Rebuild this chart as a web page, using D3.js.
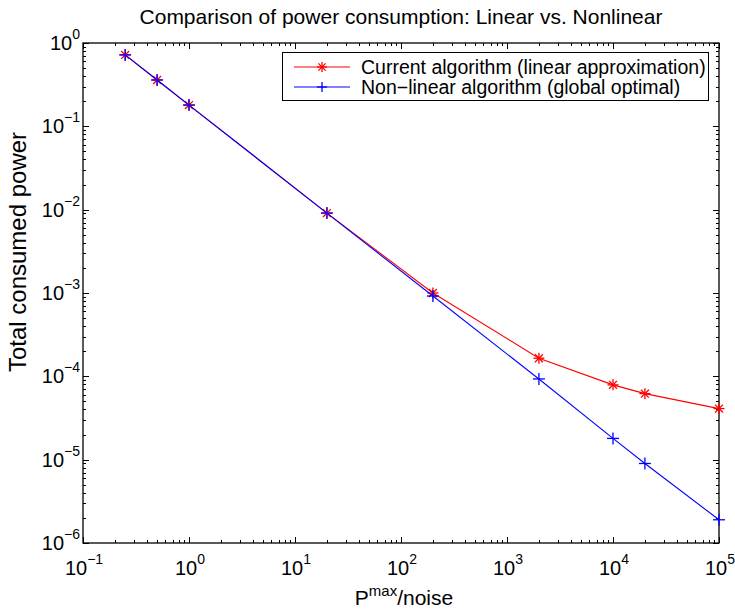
<!DOCTYPE html>
<html><head><meta charset="utf-8">
<script src="https://cdn.jsdelivr.net/npm/d3@7"></script>
<style>body{margin:0;background:#fff}svg{display:block;font-family:"Liberation Sans",Arial,sans-serif}</style>
</head><body>
<svg id="c" width="735" height="611"></svg>
<script>
const xValues = [0.25, 0.5, 1, 20, 200, 2000, 10000, 20000, 100000];
const currentAlg = [0.72, 0.36, 0.18, 0.0091, 1.0e-3, 1.65e-4, 7.9e-5, 6.2e-5, 4.1e-5];
const nonlinearAlg = [0.72, 0.36, 0.18, 0.0091, 9.2e-4, 9.3e-5, 1.8e-5, 9.0e-6, 1.9e-6];
const xTickExps = [-1, 0, 1, 2, 3, 4, 5];
const yTickExps = [0, -1, -2, -3, -4, -5, -6];
const seriesNames = ["Current algorithm (linear approximation)", "Non\u2212linear algorithm (global optimal)"];

const svg = d3.select("#c");
const L = 83, R = 719, T = 43, B = 543;
const x = d3.scaleLog().domain([1e-1, 1e5]).range([L, R]);
const y = d3.scaleLog().domain([1e-6, 1e0]).range([B, T]);

// minor ticks
const minorX = [], minorY = [];
for (let e = -1; e < 5; e++) for (let m = 2; m <= 9; m++) minorX.push(m * Math.pow(10, e));
for (let e = -6; e < 0; e++) for (let m = 2; m <= 9; m++) minorY.push(m * Math.pow(10, e));
const g = svg.append("g").attr("stroke", "#000").attr("stroke-width", 1);
minorX.forEach(v => {
  const px = Math.round(x(v)) + 0.5;
  g.append("line").attr("x1", px).attr("x2", px).attr("y1", B).attr("y2", B - 3);
  g.append("line").attr("x1", px).attr("x2", px).attr("y1", T).attr("y2", T + 3);
});
minorY.forEach(v => {
  const py = Math.round(y(v)) + 0.5;
  g.append("line").attr("y1", py).attr("y2", py).attr("x1", L).attr("x2", L + 3);
  g.append("line").attr("y1", py).attr("y2", py).attr("x1", R).attr("x2", R - 3);
});
xTickExps.forEach(e => {
  const px = Math.round(x(Math.pow(10, e))) + 0.5;
  g.append("line").attr("x1", px).attr("x2", px).attr("y1", B).attr("y2", B - 6);
  g.append("line").attr("x1", px).attr("x2", px).attr("y1", T).attr("y2", T + 6);
});
yTickExps.forEach(e => {
  const py = Math.round(y(Math.pow(10, e))) + 0.5;
  g.append("line").attr("y1", py).attr("y2", py).attr("x1", L).attr("x2", L + 6);
  g.append("line").attr("y1", py).attr("y2", py).attr("x1", R).attr("x2", R - 6);
});
svg.append("rect").attr("x", L).attr("y", T).attr("width", R - L).attr("height", B - T)
  .attr("fill", "none").attr("stroke", "#000").attr("stroke-width", 1.3);

// tick labels
const fmtExp = e => e < 0 ? "\u2212" + (-e) : String(e);
xTickExps.forEach(e => {
  const t = svg.append("text").attr("x", x(Math.pow(10, e)) + 1).attr("y", 575)
    .attr("text-anchor", "middle").attr("font-size", 20);
  t.append("tspan").text("10");
  t.append("tspan").attr("dy", -11).attr("font-size", 14).text(fmtExp(e));
});
yTickExps.forEach(e => {
  const t = svg.append("text").attr("x", 80).attr("y", y(Math.pow(10, e)) + 7)
    .attr("text-anchor", "end").attr("font-size", 20);
  t.append("tspan").text("10");
  t.append("tspan").attr("dy", -11).attr("font-size", 14).text(fmtExp(e));
});

// title and axis labels
svg.append("text").attr("x", (L + R) / 2).attr("y", 24).attr("text-anchor", "middle")
  .attr("font-size", 21).text("Comparison of power consumption: Linear vs. Nonlinear");
const xl = svg.append("text").attr("x", (L + R) / 2 + 3).attr("y", 605).attr("text-anchor", "middle").attr("font-size", 21);
xl.append("tspan").text("P");
xl.append("tspan").attr("dy", -9).attr("font-size", 15).text("max");
xl.append("tspan").attr("dy", 9).text("/noise");
svg.append("text").attr("transform", `translate(26,252) rotate(-90)`)
  .attr("text-anchor", "middle").attr("font-size", 24).text("Total consumed power");

// series
const series = [
  {vals: currentAlg, color: "#ff0000", marker: "star"},
  {vals: nonlinearAlg, color: "#0000ff", marker: "plus"}
];
const line = d3.line().x(d => x(d[0])).y(d => y(d[1]));
function drawMarker(sel, cx, cy, type, color, s) {
  const gg = sel.append("g").attr("stroke", color).attr("stroke-width", 1.3).attr("fill", "none");
  gg.append("line").attr("x1", cx - s).attr("x2", cx + s).attr("y1", cy).attr("y2", cy);
  gg.append("line").attr("x1", cx).attr("x2", cx).attr("y1", cy - s).attr("y2", cy + s);
  if (type === "star") {
    const d = s * 0.72;
    gg.append("line").attr("x1", cx - d).attr("x2", cx + d).attr("y1", cy - d).attr("y2", cy + d);
    gg.append("line").attr("x1", cx - d).attr("x2", cx + d).attr("y1", cy + d).attr("y2", cy - d);
  }
}
series.forEach(s => {
  const pts = xValues.map((xv, i) => [xv, s.vals[i]]);
  svg.append("path").datum(pts).attr("d", line).attr("fill", "none")
    .attr("stroke", s.color).attr("stroke-width", 1.1);
  pts.forEach(p => drawMarker(svg, x(p[0]), y(p[1]), s.marker, s.color, s.marker === "star" ? 5.5 : 6));
});

// legend
svg.append("rect").attr("x", 282.5).attr("y", 52.5).attr("width", 426).attr("height", 48)
  .attr("fill", "#fff").attr("stroke", "#000").attr("stroke-width", 1);
series.forEach((s, i) => {
  const ly = 67 + i * 20;
  svg.append("line").attr("x1", 294).attr("x2", 350).attr("y1", ly).attr("y2", ly)
    .attr("stroke", s.color).attr("stroke-width", 1.1);
  drawMarker(svg, 322, ly, s.marker, s.color, 5);
  svg.append("text").attr("x", 361).attr("y", ly + 7).attr("font-size", 19.5).text(seriesNames[i]);
});
</script>
</body></html>
